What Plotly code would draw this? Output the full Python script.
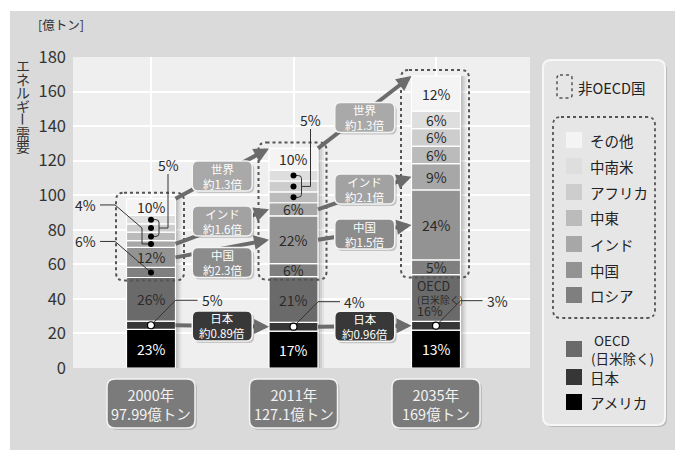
import plotly.graph_objects as go

# ---------------- data ----------------
years = ["2000年", "2011年", "2035年"]
totals = [97.99, 127.1, 169]
total_text = ["97.99億トン", "127.1億トン", "169億トン"]
regions = ["アメリカ", "日本", "OECD(日米除く)", "ロシア", "中国", "インド", "中東", "アフリカ", "中南米", "その他"]
pct_2000 = [23, 5, 26, 6, 12, 4, 5, 5, 5, 10]
pct_2011 = [17, 4, 21, 6, 22, 6, 5, 5, 5, 10]
pct_2035 = [13, 3, 16, 5, 24, 9, 6, 6, 6, 12]
ratio_labels = ["世界", "インド", "中国", "日本"]
ratio_2000_2011 = ["約1.3倍", "約1.6倍", "約2.3倍", "約0.89倍"]
ratio_2011_2035 = ["約1.3倍", "約2.1倍", "約1.5倍", "約0.96倍"]
y_ticks = [0, 20, 40, 60, 80, 100, 120, 140, 160, 180]

# ---------------- style / geometry ----------------
FONT = "Noto Sans CJK JP"
colors = ["#000000", "#363636", "#6a6a6a", "#7f7f7f", "#939393",
          "#a7a7a7", "#bbbbbb", "#cdcdcd", "#dedede", "#f4f4f4"]
box_colors = ["#a9a9a9", "#a2a2a2", "#8c8c8c", "#383838"]
box_y_px = [[176, 221, 262.5, None], [117.5, 189, 234, None]]
ARROW = "#6b6b6b"
TXT = "#2a2a2a"

W, H = 675, 450
PL, PR, PT, PB = 73, 530, 57, 368
YMAX = 180
PXY = (PB - PT) / YMAX
PXX = 142.5
XMIN = -(151 - PL) / PXX
XMAX = XMIN + (PR - PL) / PXX
BAR_W = 49 / PXX
HW = BAR_W / 2
xs = [0, 1, 2]

pcts = [pct_2000, pct_2011, pct_2035]
vals, bases = [], []
for t, p in zip(totals, pcts):
    s = sum(p)
    v = [t * q / s for q in p]
    vals.append(v)
    bases.append([sum(v[:k]) for k in range(len(v))])
centers = [[b + v / 2 for b, v in zip(bs, vs)] for bs, vs in zip(bases, vals)]


def ddx(p):
    return p / PXX


def ddy(p):
    return p / PXY


def ypx(py):
    return (PB - py) / PXY


def pxp(px):
    return (px - PL) / (PR - PL)


def pyp(py):
    return (PB - py) / (PB - PT)


def rrect(x0, x1, y0, y1, rx, ry):
    return (f"M{x0+rx},{y1} L{x1-rx},{y1} Q{x1},{y1} {x1},{y1-ry} "
            f"L{x1},{y0+ry} Q{x1},{y0} {x1-rx},{y0} L{x0+rx},{y0} "
            f"Q{x0},{y0} {x0},{y0+ry} L{x0},{y1-ry} Q{x0},{y1} {x0+rx},{y1} Z")


fig = go.Figure()

# bar shadows
for off, a in [(2, 0.10), (4, 0.08), (6, 0.05)]:
    fig.add_trace(go.Bar(x=[x + ddx(off) for x in xs], y=totals, base=[0, 0, 0],
                         width=BAR_W, marker=dict(color=f"rgba(0,0,0,{a})", line=dict(width=0)),
                         hoverinfo="skip", showlegend=False))

# stacked bars
for k, name in enumerate(regions):
    fig.add_trace(go.Bar(x=xs, y=[vals[i][k] for i in xs], base=[bases[i][k] for i in xs],
                         width=BAR_W, name=name,
                         marker=dict(color=colors[k], line=dict(color="white", width=1.2)),
                         showlegend=False, hoverinfo="name+y"))

shapes = []
ann = []

# white page strips (top / left)
shapes.append(dict(type="rect", xref="paper", yref="paper", x0=pxp(0), x1=pxp(W),
                   y0=pyp(11), y1=pyp(0), fillcolor="white", line=dict(width=0), layer="below"))
shapes.append(dict(type="rect", xref="paper", yref="paper", x0=pxp(0), x1=pxp(10),
                   y0=pyp(H), y1=pyp(0), fillcolor="white", line=dict(width=0), layer="below"))

# non-OECD dotted boxes
for i in xs:
    x0, x1 = i - ddx(35), i + ddx(33)
    y0, y1 = bases[i][3] - ddy(3), totals[i] + ddy(6)
    shapes.append(dict(type="path", xref="x", yref="y", path=rrect(x0, x1, y0, y1, ddx(8), ddy(8)),
                       line=dict(color="#555555", width=2, dash="dot"), layer="above"))


# arrows
def add_arrow(x0, y0, x1, y1):
    t = 0.9
    shapes.append(dict(type="line", xref="x", yref="y", x0=x0, y0=y0,
                       x1=x0 + (x1 - x0) * t, y1=y0 + (y1 - y0) * t,
                       line=dict(color=ARROW, width=4), layer="above"))
    ta = 0.86
    ann.append(dict(x=x1, y=y1, ax=x0 + (x1 - x0) * ta, ay=y0 + (y1 - y0) * ta,
                    xref="x", yref="y", axref="x", ayref="y", text="", showarrow=True,
                    arrowhead=2, arrowsize=0.75, arrowwidth=4, arrowcolor=ARROW, standoff=0))


for j in range(2):
    a, b = xs[j], xs[j + 1]
    add_arrow(a + HW, totals[a], b - HW, totals[b])                 # world
    add_arrow(a + HW, centers[a][5], b - HW, centers[b][5])         # India
    add_arrow(a + HW, centers[a][4], b - HW, centers[b][4])         # China
    add_arrow(a + HW, centers[a][1], b - HW, centers[b][1])         # Japan

# ratio boxes
ratios = [ratio_2000_2011, ratio_2011_2035]
for j in range(2):
    xm = xs[j] + 0.5
    for r in range(4):
        if box_y_px[j][r] is None:
            yc = (centers[j][1] + centers[j + 1][1]) / 2
        else:
            yc = ypx(box_y_px[j][r])
        x0, x1 = xm - ddx(30), xm + ddx(30)
        y0, y1 = yc - ddy(15), yc + ddy(15)
        shapes.append(dict(type="path", xref="x", yref="y",
                           path=rrect(x0 + ddx(2), x1 + ddx(2), y0 - ddy(2), y1 - ddy(2), ddx(6), ddy(6)),
                           fillcolor="rgba(0,0,0,0.18)", line=dict(width=0), layer="above"))
        shapes.append(dict(type="path", xref="x", yref="y", path=rrect(x0, x1, y0, y1, ddx(6), ddy(6)),
                           fillcolor=box_colors[r], line=dict(color="#f4f4f4", width=1.5), layer="above"))
        ann.append(dict(x=xm, y=yc, text=f"{ratio_labels[r]}<br>{ratios[j][r]}", showarrow=False,
                        font=dict(family=FONT, size=11.5, color="white"), xref="x", yref="y"))

# x category boxes
for i in xs:
    x0, x1 = i - ddx(44), i + ddx(44)
    y0, y1 = pyp(428), pyp(379)
    shapes.append(dict(type="path", xref="x", yref="paper",
                       path=rrect(x0 + ddx(2), x1 + ddx(2), y0 - 2 / 311, y1 - 2 / 311, ddx(8), 8 / 311),
                       fillcolor="rgba(0,0,0,0.15)", line=dict(width=0), layer="above"))
    shapes.append(dict(type="path", xref="x", yref="paper", path=rrect(x0, x1, y0, y1, ddx(8), 8 / 311),
                       fillcolor="#7b7b7b", line=dict(color="#f4f4f4", width=1.5), layer="above"))
    ann.append(dict(x=i, y=pyp(403.5), xref="x", yref="paper", showarrow=False,
                    text=f"{years[i]}<br>{total_text[i]}",
                    font=dict(family=FONT, size=14.5, color="#f2f2f2")))

# inside percent labels
inside = {0: [0, 2, 4, 9], 1: [0, 2, 3, 4, 5, 9], 2: [0, 3, 4, 5, 6, 7, 8, 9]}
for i, ks in inside.items():
    for k in ks:
        ann.append(dict(x=i, y=centers[i][k], text=f"{pcts[i][k]}%", showarrow=False,
                        xref="x", yref="y",
                        font=dict(family=FONT, size=14, color="white" if k == 0 else TXT)))

# 2035 OECD label
oc = centers[2][2]
ox = 2 - HW + ddx(3)
ann.append(dict(x=ox, y=oc, xref="x", yref="y", showarrow=False, xanchor="left", align="left",
                text=("<span style='font-size:12.5px'>OECD</span><br>(日米除く)<br>"
                      f"<span style='font-size:12.5px'>{pcts[2][2]}%</span>"),
                font=dict(family=FONT, size=9.8, color=TXT)))

LEAD = dict(color="#333333", width=1)
dots = []
# Japan leaders
for i in xs:
    c = centers[i][1]
    ye = c + ddy(25)
    shapes.append(dict(type="path", xref="x", yref="y", layer="above", line=LEAD,
                       path=f"M{i},{c} L{i+HW},{ye} L{i+HW+ddx(22)},{ye}"))
    ann.append(dict(x=i + HW + ddx(24), y=ye, text=f"{pcts[i][1]}%", showarrow=False, xanchor="left",
                    xref="x", yref="y", font=dict(family=FONT, size=14, color=TXT)))
    dots.append((i, c, "white"))

# 2000 left leaders
c_ru = centers[0][3]
ye = c_ru + ddy(31)
shapes.append(dict(type="path", xref="x", yref="y", layer="above", line=LEAD,
                   path=f"M{-ddx(51)},{ye} L{-ddx(36)},{ye} L0,{c_ru}"))
ann.append(dict(x=-ddx(53), y=ye, text=f"{pcts[0][3]}%", showarrow=False, xanchor="right",
                xref="x", yref="y", font=dict(family=FONT, size=14, color=TXT)))
dots.append((0, c_ru, "black"))

c_in = centers[0][5]
c_af = centers[0][7]
ye = c_in + ddy(39)
shapes.append(dict(type="path", xref="x", yref="y", layer="above", line=LEAD,
                   path=f"M{-ddx(51)},{ye} L{-ddx(36)},{ye} L{-ddx(9)},{c_af} L{-ddx(9)},{c_in} L0,{c_in}"))
ann.append(dict(x=-ddx(53), y=ye, text=f"{pcts[0][5]}%", showarrow=False, xanchor="right",
                xref="x", yref="y", font=dict(family=FONT, size=14, color=TXT)))
dots.append((0, c_in, "black"))

# 5% brackets (中東・アフリカ・中南米)
bracket_label_px = [165, 120]
for i in [0, 1]:
    c8, c7, c6 = centers[i][8], centers[i][7], centers[i][6]
    yl = ypx(bracket_label_px[i])
    p = (f"M{i},{c8} L{i+ddx(5)},{c8} Q{i+ddx(8)},{c8} {i+ddx(8)},{c8-ddy(3)} "
         f"L{i+ddx(8)},{c6+ddy(3)} Q{i+ddx(8)},{c6} {i+ddx(5)},{c6} L{i},{c6} "
         f"M{i+ddx(8)},{c7} L{i+ddx(17)},{c7} L{i+ddx(17)},{yl-ddy(9)}")
    shapes.append(dict(type="path", xref="x", yref="y", layer="above", line=LEAD, path=p))
    ann.append(dict(x=i + ddx(17), y=yl, text=f"{pcts[i][6]}%", showarrow=False,
                    xref="x", yref="y", font=dict(family=FONT, size=14, color=TXT)))
    for c in (c8, c7, c6):
        dots.append((i, c, "black"))

for (i, c, col) in dots:
    r = 3.5 if col == "white" else 3
    shapes.append(dict(type="circle", xref="x", yref="y", layer="above",
                       x0=i - ddx(r), x1=i + ddx(r), y0=c - ddy(r), y1=c + ddy(r),
                       fillcolor=col, line=dict(color="black", width=1.2 if col == "white" else 0)))

# ---------------- legend (manual) ----------------
RXP, RYP = 1 / (PR - PL), 1 / (PB - PT)
shapes.append(dict(type="path", xref="paper", yref="paper", layer="above",
                   path=rrect(pxp(545), pxp(667), pyp(427), pyp(62), 8 * RXP, 8 * RYP),
                   fillcolor="rgba(0,0,0,0.15)", line=dict(width=0)))
shapes.append(dict(type="path", xref="paper", yref="paper", layer="above",
                   path=rrect(pxp(543), pxp(665), pyp(425), pyp(60), 8 * RXP, 8 * RYP),
                   fillcolor="#e6e6e6", line=dict(color="#f7f7f7", width=2)))
shapes.append(dict(type="path", xref="paper", yref="paper", layer="above",
                   path=rrect(pxp(557), pxp(572), pyp(98), pyp(75), 3 * RXP, 3 * RYP),
                   line=dict(color="#555555", width=1.5, dash="dot")))
ann.append(dict(x=pxp(576), y=pyp(87), xref="paper", yref="paper", text="非OECD国", showarrow=False,
                xanchor="left", font=dict(family=FONT, size=14.5, color="#222222")))
shapes.append(dict(type="path", xref="paper", yref="paper", layer="above",
                   path=rrect(pxp(553), pxp(655), pyp(318), pyp(117), 8 * RXP, 8 * RYP),
                   line=dict(color="#555555", width=1.8, dash="dot")))

legend_items = [(9, 140), (8, 166), (7, 192), (6, 218), (5, 244), (4, 270), (3, 295),
                (2, 349), (1, 377), (0, 402)]
for k, yc in legend_items:
    shapes.append(dict(type="rect", xref="paper", yref="paper", layer="above",
                       x0=pxp(566), x1=pxp(582), y0=pyp(yc + 8), y1=pyp(yc - 8),
                       fillcolor=colors[k], line=dict(width=0)))
    name = regions[k]
    if "(" in name:
        top, bot = name.split("(")
        ann.append(dict(x=pxp(589), y=pyp(yc), xref="paper", yref="paper",
                        text=f"&nbsp;{top}<br>({bot}", align="left",
                        showarrow=False, xanchor="left", font=dict(family=FONT, size=13.5, color="#222222")))
    else:
        ann.append(dict(x=pxp(588), y=pyp(yc), xref="paper", yref="paper", text=name,
                        showarrow=False, xanchor="left", font=dict(family=FONT, size=14.5, color="#222222")))

# axis unit and vertical title
ann.append(dict(x=pxp(61), y=pyp(25), xref="paper", yref="paper", text="[億トン]", showarrow=False,
                font=dict(family=FONT, size=12.5, color="#333333")))
title_chars = ["エ", "ネ", "ル", "ギ", "ー", "需", "要"]
for n, ch in enumerate(title_chars):
    ann.append(dict(x=pxp(23), y=pyp(65 + 13.5 * n), xref="paper", yref="paper", text=ch,
                    showarrow=False, textangle=90 if ch == "ー" else 0,
                    font=dict(family=FONT, size=14, color="#333333")))

for a in ann:
    a.setdefault("xanchor", "center")
    a.setdefault("yanchor", "middle")

fig.update_layout(
    width=W, height=H,
    margin=dict(l=PL, r=W - PR, t=PT, b=H - PB, pad=0),
    paper_bgcolor="#dadada", plot_bgcolor="#efefef",
    barmode="overlay", showlegend=False,
    shapes=shapes, annotations=ann,
    font=dict(family=FONT, color="#333333"),
    xaxis=dict(range=[XMIN, XMAX], tickvals=xs, showticklabels=False, showgrid=True,
               gridcolor="white", gridwidth=1.5, zeroline=False, showline=False, fixedrange=True),
    yaxis=dict(range=[0, YMAX], tickvals=y_ticks, showgrid=True, gridcolor="white", gridwidth=1.5,
               zeroline=False, showline=False, ticks="", ticklabelstandoff=6,
               tickfont=dict(family=FONT, size=16.5, color="#333333"), fixedrange=True),
)

fig.write_html("out.html")
